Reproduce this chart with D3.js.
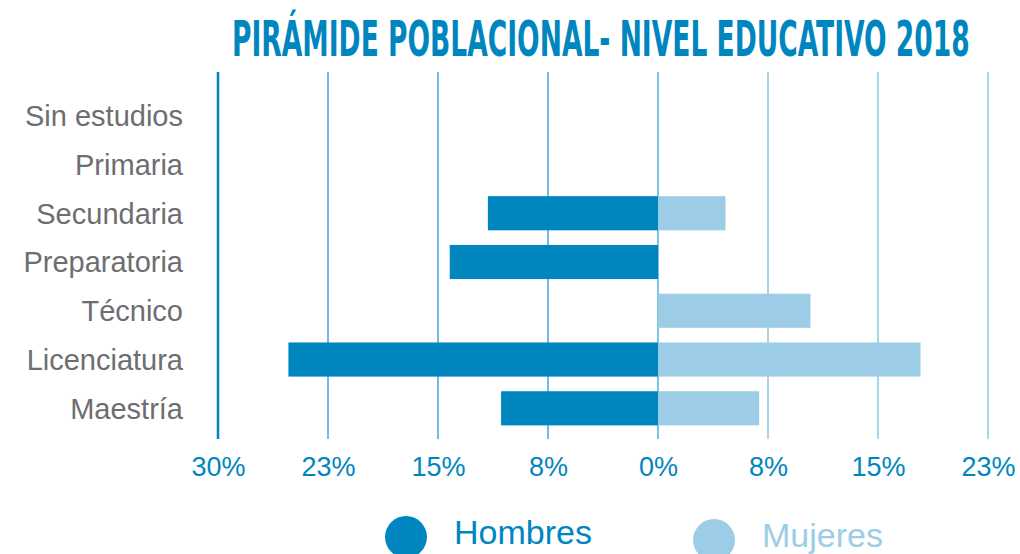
<!DOCTYPE html>
<html lang="es">
<head>
<meta charset="UTF-8"/>
<title>Pirámide poblacional - Nivel educativo 2018</title>
<script src="https://d3js.org/d3.v7.min.js"></script>
<style>
    body { margin: 0; background: #ffffff; }
    svg { display: block; font-family: Helvetica, "Liberation Sans", Arial, sans-serif; }
</style>
</head>
<body>
<script>
    // Chart data (percent of population)
    var categories = ["Sin estudios", "Primaria", "Secundaria", "Preparatoria", "Técnico", "Licenciatura", "Maestría"];
    var hombres = [0, 0, 11.6, 14.2, 0, 25.2, 10.7];
    var mujeres = [0, 0, 4.6, 0, 10.4, 17.9, 6.9];
    var tickValues = [-30, -22.5, -15, -7.5, 0, 7.5, 15, 22.5];
    var seriesNames = ["Hombres", "Mujeres"];

    var w = 1020;
    var h = 554;
    var darkBlue = "#0086bf";
    var lightBlue = "#9dcde6";

    var svg = d3.select("body")
        .append("svg")
        .attr("width", w)
        .attr("height", h);

    // Scales
    var xScale = d3.scaleLinear()
        .domain([-30, 22.5])
        .range([218, 988]);

    var yScale = d3.scaleBand()
        .domain(categories)
        .range([84, 440])
        .padding(0.3);

    // Title - condensed by a horizontal scale so it fits the reference width
    var title = svg.append("text")
        .style("font-family", "'Liberation Sans Narrow', 'DejaVu Sans Condensed', sans-serif")
        .style("font-weight", "bold")
        .style("font-size", "49px")
        .attr("fill", darkBlue)
        .text("PIRÁMIDE POBLACIONAL- NIVEL EDUCATIVO 2018");
    var titleWidth = title.node().getComputedTextLength();
    title.attr("transform", `translate(232,56) scale(${738 / titleWidth},1)`);

    // Vertical grid lines
    function gridColour(d, i) {
        if (i === 0) return darkBlue;
        if (d < 0) return "#229bd2";
        if (d === 0) return "#3aa4d6";
        return "#74c1e2";
    }

    svg.append("g")
        .selectAll("line")
        .data(tickValues)
        .enter()
        .append("line")
        .attr("x1", d => xScale(d))
        .attr("x2", d => xScale(d))
        .attr("y1", 72)
        .attr("y2", 439)
        .attr("stroke", gridColour)
        .attr("stroke-width", (d, i) => i === 0 ? 2.5 : 1.3);

    // Hombres bars (to the left)
    svg.append("g")
        .attr("fill", darkBlue)
        .selectAll("rect")
        .data(hombres)
        .enter()
        .append("rect")
        .attr("x", d => xScale(-d))
        .attr("y", (d, i) => yScale(categories[i]))
        .attr("width", d => xScale(0) - xScale(-d))
        .attr("height", yScale.bandwidth());

    // Mujeres bars (to the right)
    svg.append("g")
        .attr("fill", lightBlue)
        .selectAll("rect")
        .data(mujeres)
        .enter()
        .append("rect")
        .attr("x", xScale(0))
        .attr("y", (d, i) => yScale(categories[i]))
        .attr("width", d => xScale(d) - xScale(0))
        .attr("height", yScale.bandwidth());

    // Category labels
    svg.append("g")
        .selectAll("text")
        .data(categories)
        .enter()
        .append("text")
        .attr("x", 183)
        .attr("y", d => yScale(d) + yScale.bandwidth() / 2)
        .attr("dy", "0.36em")
        .attr("text-anchor", "end")
        .style("font-size", "29px")
        .attr("fill", "#6d6e71")
        .text(d => d);

    // X axis labels
    var xAxis = d3.axisBottom(xScale)
        .tickValues(tickValues)
        .tickFormat(d => Math.round(Math.abs(d)) + "%")
        .tickSize(0)
        .tickPadding(0);

    var axisG = svg.append("g")
        .attr("transform", "translate(0,456)")
        .call(xAxis);

    axisG.select(".domain").remove();
    axisG.selectAll("text")
        .attr("dy", null)
        .attr("y", 20)
        .style("font-family", "Helvetica, 'Liberation Sans', Arial, sans-serif")
        .style("font-size", "27px")
        .attr("fill", darkBlue);

    // Legend
    var legendX = [406, 714];
    var legendY = [537, 540];
    var legend = svg.append("g")
        .selectAll("g")
        .data(seriesNames)
        .enter()
        .append("g");

    legend.append("circle")
        .attr("cx", (d, i) => legendX[i])
        .attr("cy", (d, i) => legendY[i])
        .attr("r", 21)
        .attr("fill", (d, i) => i === 0 ? darkBlue : lightBlue);

    legend.append("text")
        .attr("x", (d, i) => legendX[i] + 48)
        .attr("y", (d, i) => legendY[i] + 7)
        .style("font-size", "34px")
        .attr("fill", (d, i) => i === 0 ? darkBlue : lightBlue)
        .text(d => d);
</script>
</body>
</html>
